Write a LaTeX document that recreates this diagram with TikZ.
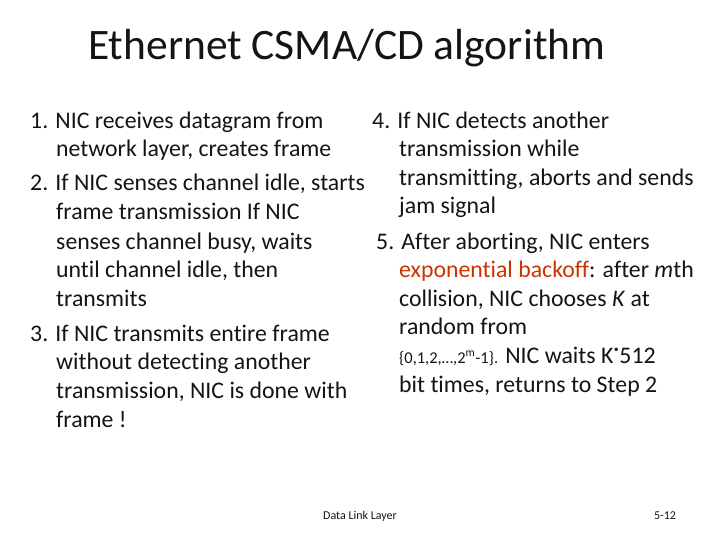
\documentclass[tikz,border=0pt]{standalone}
\usepackage{fontspec}
\setmainfont[RawFeature=-liga]{Carlito}
\definecolor{hl}{RGB}{204,51,0}
\definecolor{tx}{RGB}{20,20,20}
\begin{document}
\begin{tikzpicture}[x=1pt,y=-1pt,
  ln/.style={anchor=base west,inner sep=0pt,font=\fontsize{23.8}{26}\selectfont,text=tx}]
\useasboundingbox (0,0) rectangle (720,540);
\node[anchor=base west,inner sep=0pt,font=\fontsize{43.5}{46}\selectfont,text=tx] (title) at (88,60) {Ethernet CSMA/CD algorithm};
\node[ln] (l1) at (30,129) {1. NIC receives datagram from};
\node[ln] (l2) at (56,157) {network layer, creates frame};
\node[ln] (l3) at (30,191) {2. If NIC senses channel idle, starts};
\node[ln] (l4) at (56,219) {frame transmission If NIC};
\node[ln] (l5) at (56,249) {senses channel busy, waits};
\node[ln] (l6) at (56,277) {until channel idle, then};
\node[ln] (l7) at (56,306) {transmits};
\node[ln] (l8) at (30,341) {3. If NIC transmits entire frame};
\node[ln] (l9) at (56,369) {without detecting another};
\node[ln] (l10) at (56,398) {transmission, NIC is done with};
\node[ln] (l11) at (56,427) {frame !};
\node[ln] (r1) at (372,129) {4. If NIC detects another};
\node[ln] (r2) at (399,157) {transmission while};
\node[ln] (r3) at (399,186) {transmitting,\ aborts and sends};
\node[ln] (r4) at (399,214) {jam signal};
\node[ln] (r5) at (376,249) {5. After aborting, NIC enters};
\node[ln] (r6) at (399,277) {\textcolor{hl}{exponential backoff}: after \textit{m}th};
\node[ln] (r7) at (399,306) {collision, NIC chooses \textit{K} at};
\node[ln] (r8) at (399,334) {random from};
\node[ln] (r9) at (399,363) {{\fontsize{16.5}{18}\selectfont\{0,1,2,…,2\textsuperscript{m}-1\}.} NIC waits K\raisebox{0.6ex}{·}512};
\node[ln] (r10) at (399,392) {bit times, returns to Step 2};
\node[anchor=base,inner sep=0pt,font=\fontsize{12}{13}\selectfont,text=tx] (foot) at (360,519) {Data Link Layer};
\node[anchor=base,inner sep=0pt,font=\fontsize{12}{13}\selectfont,text=tx] (page) at (665,519) {5-12};
\end{tikzpicture}
\end{document}
